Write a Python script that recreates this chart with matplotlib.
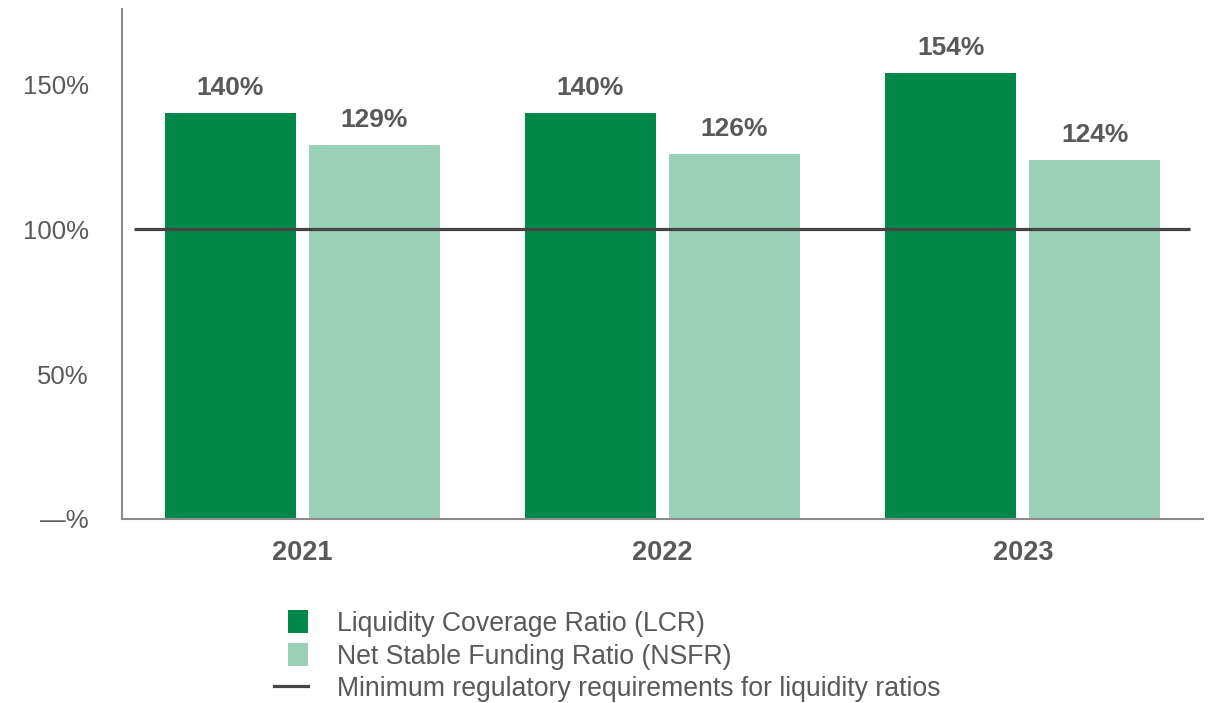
import matplotlib
matplotlib.use("Agg")
import matplotlib.pyplot as plt
from matplotlib.patches import Patch, Rectangle
from matplotlib.lines import Line2D
from matplotlib.legend_handler import HandlerPatch

plt.rcParams['font.family'] = ['Liberation Sans', 'DejaVu Sans']

years = ["2021", "2022", "2023"]
lcr = [140, 140, 154]
nsfr = [129, 126, 124]
min_req = 100
yticks = [0, 50, 100, 150]
ytick_labels = ["—%", "50%", "100%", "150%"]
series_names = ["Liquidity Coverage Ratio (LCR)", "Net Stable Funding Ratio (NSFR)",
                "Minimum regulatory requirements for liquidity ratios"]

C_LCR = "#00874a"
C_NSFR = "#9acfb8"
C_LINE = "#454545"
C_TEXT = "#595959"
C_SPINE = "#8c8c8c"

fig = plt.figure(figsize=(12.13, 7.03), dpi=100)
W, H = 1213, 703
ax = fig.add_axes([122 / W, (H - 519) / H, (1203 - 122) / W, (519 - 9) / H])

x = list(range(len(years)))
bw = 0.364
off = 0.2
b1 = ax.bar([i - off for i in x], lcr, width=bw, color=C_LCR, zorder=2)
b2 = ax.bar([i + off for i in x], nsfr, width=bw, color=C_NSFR, zorder=2)
ax.hlines(min_req, -0.467, 2.464, color=C_LINE, linewidth=2.3, zorder=3)

for bars, vals in ((b1, lcr), (b2, nsfr)):
    for r, v in zip(bars, vals):
        ax.annotate(f"{v}%", (r.get_x() + r.get_width() / 2, r.get_height()),
                    xytext=(0, 13), textcoords="offset points", ha="center",
                    va="baseline", fontsize=19, fontweight="bold", color=C_TEXT)

ax.set_xlim(-0.5, 2.5)
ax.set_ylim(0, 176)
ax.set_xticks(x)
ax.set_xticklabels(years, fontsize=19.5, fontweight="bold", color=C_TEXT)
ax.set_yticks(yticks)
ax.set_yticklabels(ytick_labels, fontsize=18.5, color=C_TEXT)
ax.tick_params(axis="x", length=0, pad=15)
ax.tick_params(axis="y", length=0, pad=24)
for s in ("top", "right"):
    ax.spines[s].set_visible(False)
for s in ("left", "bottom"):
    ax.spines[s].set_color(C_SPINE)
    ax.spines[s].set_linewidth(1.5)


def narrow_patch(legend, orig_handle, xdescent, ydescent, width, height, fontsize):
    w = 20 / 34 * width
    h = height * 1.0
    return Rectangle((-xdescent + width - w, -ydescent), w, h)


handles = [Patch(facecolor=C_LCR), Patch(facecolor=C_NSFR),
           Line2D([0], [0], color=C_LINE, linewidth=2.3)]
leg = fig.legend(handles, series_names, loc="upper left",
                 bbox_to_anchor=(274 / W, 1 - 610 / H), frameon=False,
                 fontsize=19.2, handlelength=1.27, handleheight=0.97,
                 handletextpad=1.09, labelspacing=0.22, borderpad=0,
                 borderaxespad=0,
                 handler_map={Patch: HandlerPatch(patch_func=narrow_patch)})
for t in leg.get_texts():
    t.set_color(C_TEXT)

fig.savefig("out.png", dpi=100)
